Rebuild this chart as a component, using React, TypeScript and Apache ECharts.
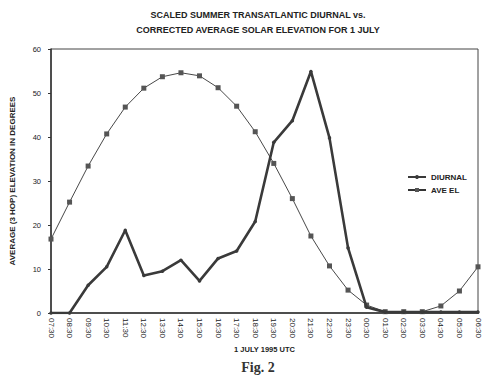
import React, { useEffect, useRef } from "react";
import * as echarts from "echarts";

const categories = [
  "07:30", "08:30", "09:30", "10:30", "11:30", "12:30", "13:30", "14:30",
  "15:30", "16:30", "17:30", "18:30", "19:30", "20:30", "21:30", "22:30",
  "23:30", "00:30", "01:30", "02:30", "03:30", "04:30", "05:30", "06:30",
];

const diurnal = [
  0, 0, 6.3, 10.5, 18.8, 8.5, 9.5, 12, 7.3, 12.4, 14.1, 20.8,
  38.8, 43.7, 54.9, 39.8, 14.8, 1.3, 0.2, 0.2, 0.2, 0.2, 0.2, 0.2,
];

const aveEl = [
  16.8, 25.2, 33.4, 40.7, 46.8, 51.1, 53.7, 54.6, 53.9, 51.2, 47.0, 41.2,
  34.0, 26.0, 17.5, 10.7, 5.2, 1.8, 0.3, 0.3, 0.3, 1.6, 5.0, 10.5,
];

const yTicks = { min: 0, max: 60, interval: 10 };

const titleLines = [
  "SCALED SUMMER TRANSATLANTIC DIURNAL vs.",
  "CORRECTED AVERAGE SOLAR ELEVATION FOR 1 JULY",
];

const FONT = "'Liberation Sans', Arial, sans-serif";

export default function App() {
  const ref = useRef<HTMLDivElement>(null);
  useEffect(() => {
    if (!ref.current) return;
    const chart = echarts.init(ref.current, null, { renderer: "svg" });
    chart.setOption({
      animation: false,
      backgroundColor: "#ffffff",
      legend: {
        orient: "vertical",
        left: 402,
        top: 168,
        itemWidth: 18,
        itemHeight: 5,
        itemGap: 5,
        textStyle: { fontFamily: FONT, fontSize: 8, fontWeight: "bold", color: "#222" },
        data: ["DIURNAL", "AVE EL"],
      },
      grid: {
        left: 45,
        right: 21,
        top: 49,
        bottom: 72,
        show: true,
        borderColor: "#444",
        borderWidth: 1,
      },
      xAxis: {
        type: "category",
        data: categories,
        boundaryGap: false,
        name: "1 JULY 1995 UTC",
        nameLocation: "middle",
        nameGap: 31,
        nameTextStyle: { fontFamily: FONT, fontSize: 7.5, fontWeight: "bold", color: "#222" },
        axisLine: { lineStyle: { color: "#333", width: 1.5 } },
        axisTick: { show: false },
        axisLabel: {
          rotate: -90,
          interval: 0,
          fontFamily: FONT,
          fontSize: 8,
          color: "#222",
          margin: 5,
        },
        splitLine: { show: false },
      },
      yAxis: {
        type: "value",
        min: yTicks.min,
        max: yTicks.max,
        interval: yTicks.interval,
        name: "AVERAGE (3 HOP) ELEVATION IN DEGREES",
        nameLocation: "middle",
        nameGap: 35,
        nameTextStyle: { fontFamily: FONT, fontSize: 8, fontWeight: "bold", color: "#222" },
        axisLine: { show: true, lineStyle: { color: "#333", width: 1.5 } },
        axisTick: { show: true, length: 3, lineStyle: { color: "#333" } },
        axisLabel: { fontFamily: FONT, fontSize: 7.5, color: "#222", margin: 10 },
        splitLine: { show: false },
      },
      series: [
        {
          name: "DIURNAL",
          type: "line",
          data: diurnal,
          symbol: "circle",
          symbolSize: 3.5,
          lineStyle: { color: "#3a3a3a", width: 2.6 },
          itemStyle: { color: "#3a3a3a" },
          z: 3,
        },
        {
          name: "AVE EL",
          type: "line",
          data: aveEl,
          symbol: "rect",
          symbolSize: 5,
          lineStyle: { color: "#333", width: 0.9 },
          itemStyle: { color: "#555" },
          z: 2,
        },
      ],
      graphic: [
        {
          type: "text",
          x: 258,
          y: 10,
          style: {
            text: titleLines[0],
            align: "center",
            fontFamily: FONT,
            fontSize: 9,
            fontWeight: "bold",
            fill: "#222",
          },
        },
        {
          type: "text",
          x: 258,
          y: 25,
          style: {
            text: titleLines[1],
            align: "center",
            fontFamily: FONT,
            fontSize: 9,
            fontWeight: "bold",
            fill: "#222",
          },
        },
        {
          type: "text",
          x: 258,
          y: 360,
          style: {
            text: "Fig. 2",
            align: "center",
            fontFamily: "'Liberation Serif', 'Times New Roman', serif",
            fontSize: 14,
            fontWeight: "bold",
            fill: "#333",
          },
        },
      ],
    });
    return () => chart.dispose();
  }, []);
  return (
    <div
      ref={ref}
      style={{ position: "fixed", left: 0, top: 0, width: 499, height: 385 }}
    />
  );
}
